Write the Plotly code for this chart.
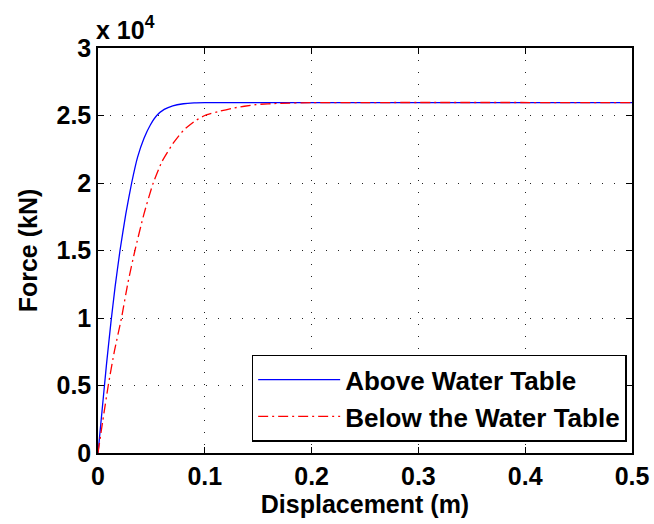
import plotly.graph_objects as go

# Data
above_x = [0, 0.004, 0.008, 0.012, 0.016, 0.0206, 0.026, 0.0315, 0.037, 0.043, 0.049, 0.055,
           0.062, 0.07, 0.08, 0.09, 0.1, 0.15, 0.5]
above_y = [0, 3300, 6600, 9600, 12300, 15000, 17700, 20000, 21900, 23300, 24300, 25000,
           25450, 25720, 25870, 25930, 25950, 25960, 25960]

below_x = [0, 0.0045, 0.0096, 0.0155, 0.022, 0.028, 0.0346, 0.043, 0.0517, 0.06, 0.07, 0.08,
           0.09, 0.1, 0.114, 0.126, 0.148, 0.17, 0.2, 0.25, 0.5]
below_y = [0, 2400, 5000, 7600, 10000, 12600, 15000, 17700, 20000, 21600, 22900, 23900,
           24550, 25000, 25320, 25540, 25810, 25900, 25950, 25960, 25960]

y_ticks = [0, 5000, 10000, 15000, 20000, 25000, 30000]
y_tick_text = ["0", "0.5", "1", "1.5", "2", "2.5", "3"]
x_ticks = [0, 0.1, 0.2, 0.3, 0.4, 0.5]
x_tick_text = ["0", "0.1", "0.2", "0.3", "0.4", "0.5"]

FONT = "Liberation Sans, Arial, sans-serif"
FS = 25

fig = go.Figure()
fig.add_trace(go.Scatter(x=above_x, y=above_y, mode="lines", name="Above Water Table",
                         line=dict(color="#0000ff", width=1.3, shape="spline", smoothing=0.5)))
fig.add_trace(go.Scatter(x=below_x, y=below_y, mode="lines", name="Below the Water Table",
                         line=dict(color="#ff0000", width=1.3, dash="10px,4px,2px,4px",
                                   shape="spline", smoothing=0.5)))

axis_common = dict(showline=True, linecolor="black", linewidth=1.5, mirror="ticks",
                   ticks="inside", ticklen=6, tickcolor="black", tickwidth=1,
                   showgrid=True, gridcolor="#222222", griddash="1px,11px", gridwidth=1,
                   zeroline=False, automargin=False,
                   tickfont=dict(family=FONT, size=FS, color="black", weight="bold"))

fig.update_xaxes(range=[0, 0.5], tickvals=x_ticks, ticktext=x_tick_text,
                 ticklabelstandoff=0,
                 title=dict(text="Displacement (m)",
                            font=dict(family=FONT, size=FS, color="black", weight="bold"),
                            standoff=4),
                 **axis_common)
fig.update_yaxes(range=[0, 30000], tickvals=y_ticks, ticktext=y_tick_text,
                 title=dict(text="Force (kN)",
                            font=dict(family=FONT, size=FS, color="black", weight="bold"),
                            standoff=12),
                 **axis_common)

fig.add_annotation(text="x 10<sup>4</sup>", xref="paper", yref="paper", x=0, y=1.0,
                   xanchor="left", yanchor="bottom", showarrow=False, yshift=2, xshift=-4,
                   font=dict(family=FONT, size=FS, color="black", weight="bold"))

fig.update_layout(
    width=654, height=524,
    margin=dict(l=98, r=22, t=48, b=71),
    plot_bgcolor="white", paper_bgcolor="white",
    showlegend=True,
    legend=dict(x=0.99, y=0.028, xanchor="right", yanchor="bottom",
                bgcolor="white", bordercolor="black", borderwidth=1.5,
                font=dict(family=FONT, size=26, color="black", weight="bold"),
                itemwidth=82),
)

fig.write_html("out.html")
